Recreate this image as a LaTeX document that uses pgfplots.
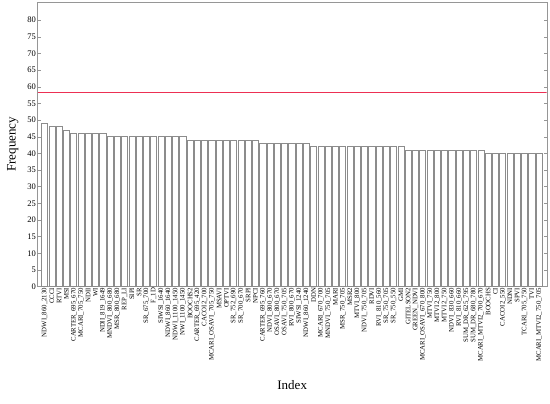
\documentclass[border=0pt]{standalone}
\usepackage{pgfplots}
\pgfplotsset{compat=1.18}
\usepackage{fontspec}
\setmainfont{Liberation Serif}
\definecolor{baredge}{RGB}{140,140,140}
\definecolor{axgray}{RGB}{150,150,150}
\definecolor{redline}{RGB}{236,48,84}
\begin{document}
\begin{tikzpicture}
\begin{axis}[
  scale only axis,
  width=509pt, height=285pt,
  xmin=0.05, xmax=70.05,
  ymin=0, ymax=85.5,
  ytick={0,5,...,80},
  tick align=inside,
  major tick length=3pt,
  axis line style={axgray},
  every tick/.style={axgray},
  xtick={1,...,69},
  major x tick style={draw=none},
  xticklabel style={rotate=90, anchor=east, font=\fontsize{6.8}{6.8}\selectfont, inner sep=1pt},
  yticklabel style={font=\fontsize{8.5}{9}\selectfont, inner sep=1.5pt},
  /pgf/number format/assume math mode=true,
  xticklabels={NDWI\_860\_2130,CCCI,RTVI,MSI,CARTER\_695\_670,MCARI\_705\_750,NDII,WI,NDII\_819\_1649,MNDVI\_800\_680,MSR\_800\_680,REP\_LI,SIPI,SR,SR\_675\_700,F\_1D,SIWSI\_1640,NDWI\_860\_1640,NDWI\_1100\_1450,NWI\_1100\_1450,BOOCHS2,CARTER\_695\_420,CACOI2\_700,MCARI\_OSAVI\_705\_750,MSAVI,OPTVI,SR\_752\_690,SR\_700\_670,SRPI,NPCI,CARTER\_695\_760,NDVI\_800\_670,OSAVI\_800\_670,OSAVI\_750\_705,RVI\_800\_670,SIWSI\_1240,NDWI\_860\_1240,DDN,MCARI\_670\_700,MNDVI\_750\_705,MARI,MSR\_750\_705,MSR2,MTVI\_800,NDVI\_750\_705,RDVI,RVI\_810\_560,SR\_750\_705,SR\_750\_550,GMI,GITELSON2,GREEN\_NDVI,MCARI\_OSAVI\_670\_800,MTVI\_750,MTVI2\_800,MTVI2\_750,NDVI\_830\_660,RVI\_810\_660,SUM\_DR\_625\_795,SUM\_DR\_680\_780,MCARI\_MTVI2\_700\_670,BOOCHS,CI,CACOI2\_550,NDNI,SPVI,TCARI\_705\_750,TVI,MCARI\_MTVI2\_750\_705},
  xlabel={Index},
  ylabel={Frequency},
  xlabel style={font=\fontsize{13}{14}\selectfont, yshift=-14pt},
  ylabel style={font=\fontsize{13}{14}\selectfont, yshift=4pt},
]
\addplot[ybar, bar width=0.84, draw=baredge, fill=white, line width=0.6pt] coordinates {
(1,49) (2,48) (3,48) (4,47) (5,46) (6,46) (7,46) (8,46) (9,46)
(10,45) (11,45) (12,45) (13,45) (14,45) (15,45) (16,45) (17,45) (18,45) (19,45) (20,45)
(21,44) (22,44) (23,44) (24,44) (25,44) (26,44) (27,44) (28,44) (29,44) (30,44)
(31,43) (32,43) (33,43) (34,43) (35,43) (36,43) (37,43)
(38,42) (39,42) (40,42) (41,42) (42,42) (43,42) (44,42) (45,42) (46,42) (47,42) (48,42) (49,42) (50,42)
(51,41) (52,41) (53,41) (54,41) (55,41) (56,41) (57,41) (58,41) (59,41) (60,41) (61,41)
(62,40) (63,40) (64,40) (65,40) (66,40) (67,40) (68,40) (69,40)
};
\addplot[redline, line width=0.9pt] coordinates {(0.05,58.3) (70.05,58.3)};
\end{axis}
\pgfresetboundingbox
\useasboundingbox (current axis.south west) ++(-37.7pt,-117.3pt) rectangle ++(550pt,404pt);
\end{tikzpicture}
\end{document}
